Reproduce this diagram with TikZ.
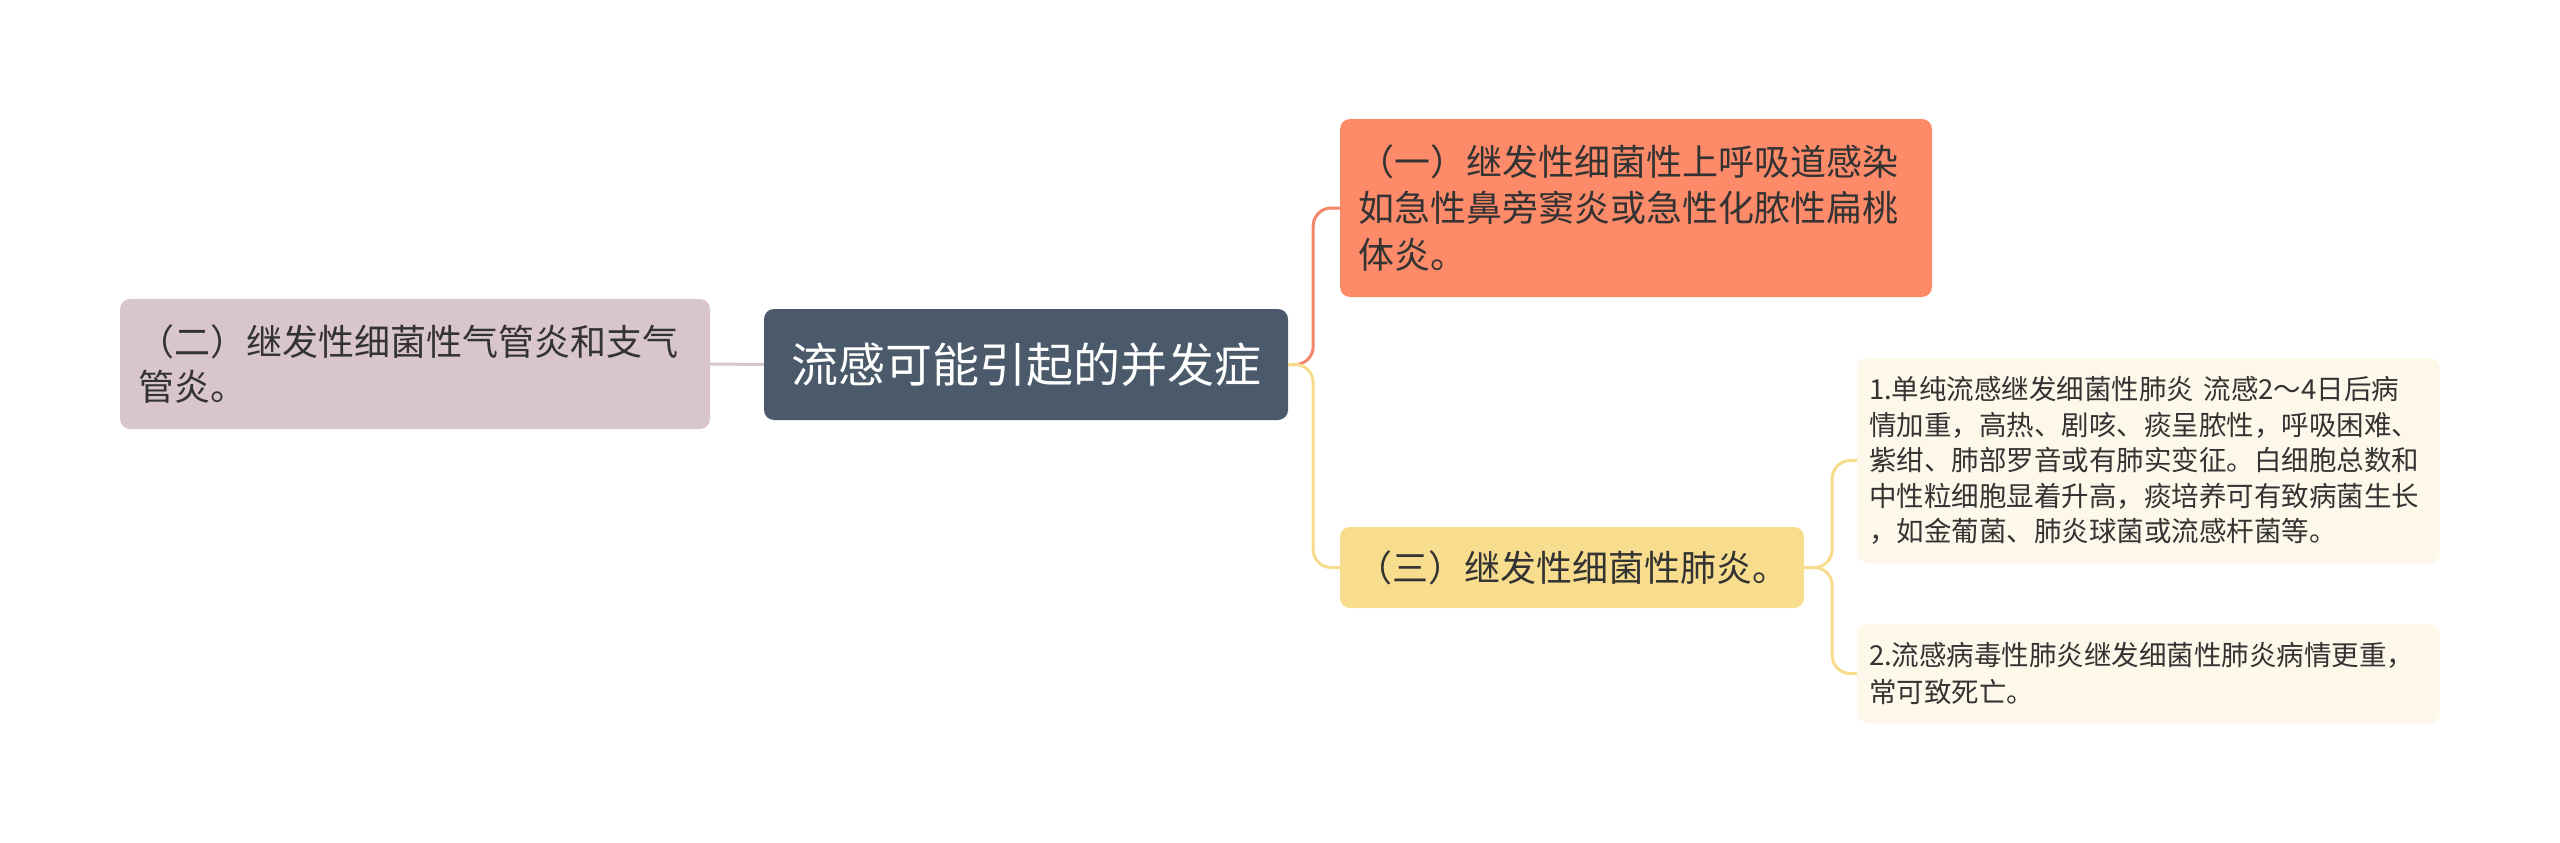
\documentclass[tikz,border=0pt]{standalone}
\usepackage{fontspec}
\newfontfamily\cjk{Noto Sans CJK SC}
\definecolor{rootc}{RGB}{74,90,106}
\definecolor{onec}{RGB}{253,138,104}
\definecolor{twoc}{RGB}{216,197,205}
\definecolor{threec}{RGB}{247,221,141}
\definecolor{leafc}{RGB}{253,248,233}
\definecolor{lineo}{RGB}{244,134,106}
\definecolor{liney}{RGB}{246,220,140}
\definecolor{textc}{RGB}{51,51,51}
\begin{document}
\begin{tikzpicture}[x=1pt,y=-1pt]
\useasboundingbox (0,0) rectangle (2560,843);
\tikzset{
  box/.style={rounded corners=10pt, inner ysep=0pt, align=left, text=textc},
  conn/.style={line width=3pt, rounded corners=18pt},
}
\node[box, fill=rootc, minimum width=524pt, minimum height=111pt, inner xsep=0pt, text=white, align=center,
  font=\cjk\fontsize{47}{56}\selectfont] (root) at (1026,364.5) {流感可能引起的并发症};
\node[box, fill=onec, minimum width=592pt, minimum height=178pt, inner xsep=18pt, text width=556pt,
  font=\cjk\fontsize{36}{46.5}\selectfont] (n1) at (1636,208)
  {（一）继发性细菌性上呼吸道感染\\如急性鼻旁窦炎或急性化脓性扁桃\\体炎。};
\node[box, fill=twoc, minimum width=590pt, minimum height=130pt, inner xsep=18pt, text width=554pt,
  font=\cjk\fontsize{36}{45}\selectfont] (n2) at (415,364)
  {（二）继发性细菌性气管炎和支气\\管炎。};
\node[box, fill=threec, minimum width=464pt, minimum height=81pt, inner xsep=0pt, align=center,
  font=\cjk\fontsize{36}{45}\selectfont] (n3) at (1572,567.5)
  {（三）继发性细菌性肺炎。};
\node[box, fill=leafc, minimum width=583pt, minimum height=205pt, inner xsep=12pt, text width=559pt,
  font=\cjk\fontsize{27.5}{35.5}\selectfont] (l1) at (2148.5,460.5)
  {1.单纯流感继发细菌性肺炎~流感2～4日后病\\情加重，高热、剧咳、痰呈脓性，呼吸困难、\\紫绀、肺部罗音或有肺实变征。白细胞总数和\\中性粒细胞显着升高，痰培养可有致病菌生长\\，如金葡菌、肺炎球菌或流感杆菌等。};
\node[box, fill=leafc, minimum width=583pt, minimum height=99pt, inner xsep=12pt, text width=559pt,
  font=\cjk\fontsize{27.5}{37}\selectfont] (l2) at (2148.5,673.5)
  {2.流感病毒性肺炎继发细菌性肺炎病情更重，\\常可致死亡。};
\draw[conn, twoc] (root.west) -- (n2.east);
\draw[conn, lineo] (root.east) -- ++(25,0) |- (n1.west);
\draw[conn, liney] (root.east) -- ++(25,0) |- (n3.west);
\draw[conn, liney] (n3.east) -- ++(28,0) |- (l1.west);
\draw[conn, liney] (n3.east) -- ++(28,0) |- (l2.west);
\end{tikzpicture}
\end{document}
